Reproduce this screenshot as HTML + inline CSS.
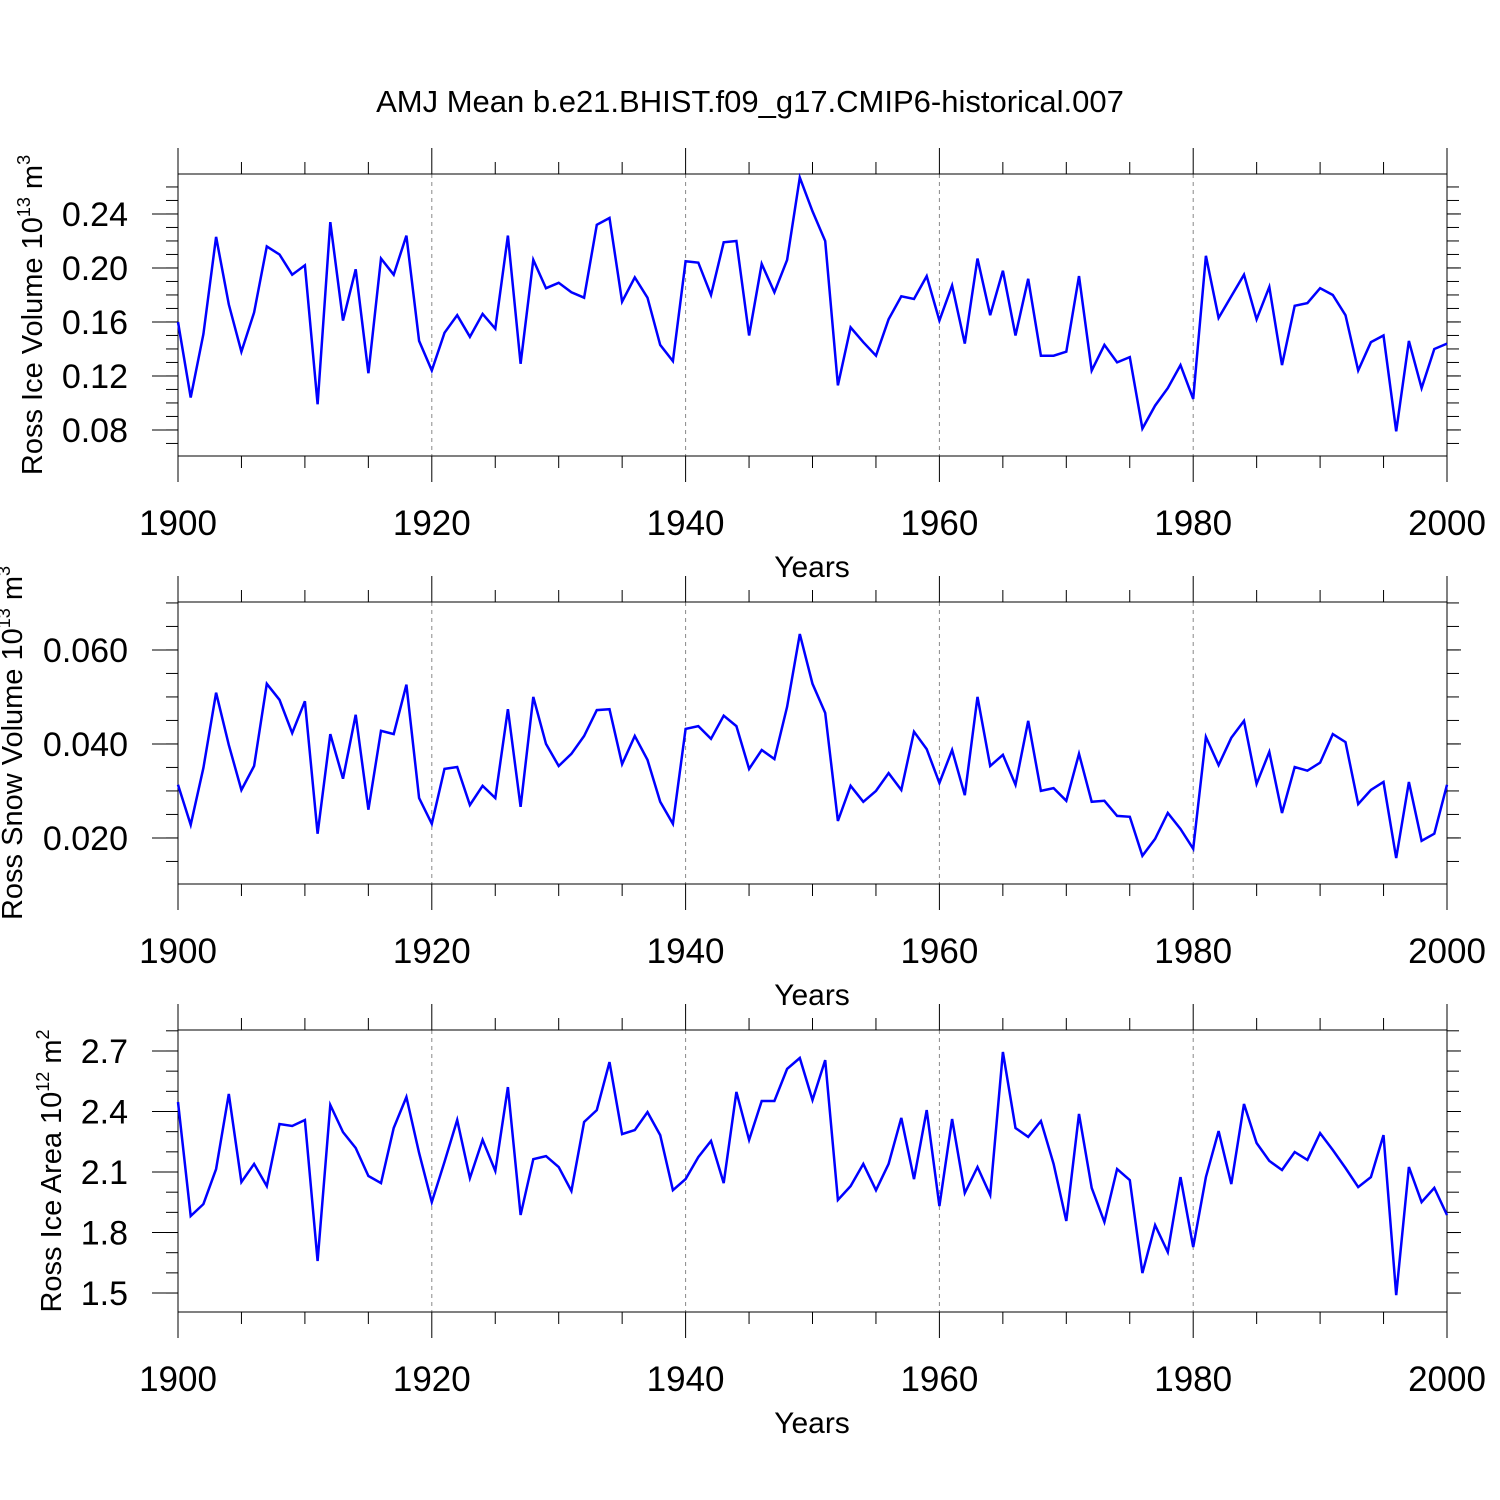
<!DOCTYPE html>
<html><head><meta charset="utf-8"><style>
html,body{margin:0;padding:0;background:#fff;}
svg{display:block;font-family:"Liberation Sans",Arial,sans-serif;}
</style></head><body>
<svg id="chart" width="1500" height="1500" xmlns="http://www.w3.org/2000/svg">
<rect width="1500" height="1500" fill="#fff"/>
<text x="750" y="112" font-size="31" text-anchor="middle">AMJ Mean b.e21.BHIST.f09_g17.CMIP6-historical.007</text>
</svg>
<script>
const years = [];
for (let y = 1900; y <= 2000; y++) years.push(y);
const iceVolume = [0.16,0.104,0.151,0.223,0.173,0.138,0.167,0.216,0.21,0.195,0.202,0.099,0.234,0.161,0.199,0.122,0.207,0.195,0.224,0.146,0.124,0.152,0.165,0.149,0.166,0.155,0.224,0.129,0.206,0.185,0.189,0.182,0.178,0.232,0.237,0.175,0.193,0.178,0.143,0.131,0.205,0.204,0.180,0.219,0.220,0.150,0.203,0.182,0.206,0.267,0.242,0.220,0.113,0.156,0.145,0.135,0.162,0.179,0.177,0.194,0.161,0.187,0.144,0.207,0.165,0.198,0.150,0.192,0.135,0.135,0.138,0.194,0.124,0.143,0.130,0.134,0.081,0.098,0.111,0.128,0.103,0.209,0.163,0.179,0.195,0.162,0.186,0.128,0.172,0.174,0.185,0.180,0.165,0.124,0.145,0.150,0.079,0.146,0.111,0.140,0.144];
const snowVolume = [0.0313,0.0228,0.0349,0.0509,0.0398,0.0302,0.0353,0.0528,0.0494,0.0423,0.0491,0.0209,0.0421,0.0326,0.0462,0.026,0.0428,0.0421,0.0526,0.0285,0.023,0.0347,0.0351,0.027,0.0311,0.0285,0.0474,0.0266,0.05,0.04,0.0353,0.0379,0.0417,0.0472,0.0474,0.0357,0.0417,0.0366,0.0277,0.023,0.0432,0.0438,0.0411,0.046,0.0438,0.0347,0.0387,0.0368,0.0479,0.0634,0.0528,0.0466,0.0236,0.0311,0.0277,0.03,0.0338,0.0302,0.0426,0.0389,0.0317,0.0387,0.0291,0.05,0.0353,0.0377,0.0313,0.0449,0.03,0.0306,0.0279,0.0379,0.0277,0.0279,0.0247,0.0245,0.0162,0.0198,0.0253,0.0219,0.0177,0.0415,0.0355,0.0413,0.0449,0.0315,0.0383,0.0253,0.0351,0.0343,0.036,0.0421,0.0404,0.0272,0.0302,0.0319,0.0157,0.0319,0.0194,0.0209,0.0313];
const iceArea = [2.447,1.882,1.941,2.115,2.487,2.05,2.14,2.03,2.338,2.328,2.358,1.659,2.432,2.298,2.219,2.08,2.045,2.318,2.472,2.194,1.951,2.15,2.358,2.07,2.259,2.105,2.521,1.887,2.164,2.179,2.125,2.006,2.348,2.407,2.645,2.288,2.308,2.397,2.283,2.01,2.065,2.174,2.254,2.045,2.497,2.259,2.452,2.452,2.611,2.665,2.457,2.655,1.961,2.03,2.14,2.01,2.14,2.368,2.065,2.407,1.931,2.363,1.996,2.125,1.986,2.695,2.318,2.274,2.353,2.14,1.857,2.388,2.021,1.852,2.115,2.06,1.599,1.837,1.703,2.075,1.728,2.075,2.303,2.04,2.437,2.244,2.155,2.11,2.199,2.16,2.293,2.209,2.12,2.025,2.075,2.283,1.49,2.125,1.951,2.021,1.887];
const xTickLabels = ["1900","1920","1940","1960","1980","2000"];
const ticks1 = ["0.08","0.12","0.16","0.20","0.24"];
const ticks2 = ["0.020","0.040","0.060"];
const ticks3 = ["1.5","1.8","2.1","2.4","2.7"];

const NS = "http://www.w3.org/2000/svg";
const svg = document.getElementById('chart');
const X0 = 178, X1 = 1447;
function xScale(yr){ return X0 + (yr - 1900) / 100 * (X1 - X0); }
function mk(tag, attrs, parent){
  const e = document.createElementNS(NS, tag);
  for (const k in attrs) e.setAttribute(k, attrs[k]);
  (parent || svg).appendChild(e);
  return e;
}
const panels = [
  {name:'ice-volume', top:174, bottom:456, vmin:0.0607, vmax:0.2696, minor:0.01, data:iceVolume, ticks:ticks1,
   title:['Ross Ice Volume 10','13',' m','3'], tx:42},
  {name:'snow-volume', top:602, bottom:884, vmin:0.0102, vmax:0.0702, minor:0.005, data:snowVolume, ticks:ticks2,
   title:['Ross Snow Volume 10','13',' m','3'], tx:22},
  {name:'ice-area', top:1030, bottom:1312, vmin:1.406, vmax:2.804, minor:0.1, data:iceArea, ticks:ticks3,
   title:['Ross Ice Area 10','12',' m','2'], tx:61}
];
panels.forEach(p => {
  const g = mk('g', {});
  
  
  const yS = v => p.bottom - (v - p.vmin) / (p.vmax - p.vmin) * (p.bottom - p.top);
  for (let yr = 1920; yr <= 1980; yr += 20) {
    const l = mk('line', {x1:xScale(yr), x2:xScale(yr), y1:p.top, y2:p.bottom, stroke:'#888', 'stroke-width':1, 'stroke-dasharray':'4,4'}, g);
    
    
  }
  for (let yr = 1900; yr <= 2000; yr += 5) {
    const x = xScale(yr), major = (yr % 20 === 0), len = major ? 26 : 12;
    mk('line', {x1:x, x2:x, y1:p.top - len, y2:p.top, stroke:'#000', 'stroke-width':1}, g);
    mk('line', {x1:x, x2:x, y1:p.bottom, y2:p.bottom + len, stroke:'#000', 'stroke-width':1}, g);
  }
  const start = Math.ceil(p.vmin / p.minor - 1e-6);
  for (let i = start; i * p.minor <= p.vmax + 1e-9; i++) {
    const y = yS(i * p.minor);
    mk('line', {x1:X0 - 12, x2:X0, y1:y, y2:y, stroke:'#000', 'stroke-width':1}, g);
    mk('line', {x1:X1, x2:X1 + 12, y1:y, y2:y, stroke:'#000', 'stroke-width':1}, g);
  }
  p.ticks.forEach(t => {
    const y = yS(parseFloat(t));
    mk('line', {x1:X0 - 26, x2:X0, y1:y, y2:y, stroke:'#000', 'stroke-width':1}, g);
    mk('line', {x1:X1, x2:X1 + 14, y1:y, y2:y, stroke:'#000', 'stroke-width':1}, g);
    const tl = mk('text', {x:128, y:y + 12, 'font-size':34, 'text-anchor':'end'}, g);
    tl.textContent = t;
    
    
  });
  const fr = mk('rect', {x:X0, y:p.top, width:X1 - X0, height:p.bottom - p.top, fill:'none', stroke:'#000', 'stroke-width':1}, g);
  
  
  xTickLabels.forEach(lbl => {
    const t = mk('text', {x:xScale(parseFloat(lbl)), y:p.bottom + 79, 'font-size':35, 'text-anchor':'middle'}, g);
    t.textContent = lbl;
    
    
  });
  const xt = mk('text', {x:812, y:p.bottom + 121, 'font-size':30, 'text-anchor':'middle'}, g);
  xt.textContent = 'Years';
  
  
  const cy = (p.top + p.bottom) / 2;
  const yt = mk('text', {x:0, y:0, 'font-size':29, 'text-anchor':'middle', transform:'translate(' + p.tx + ',' + cy + ') rotate(-90)'}, g);
  
  
  const s1 = mk('tspan', {}, yt); s1.textContent = p.title[0];
  const s2 = mk('tspan', {dy:-12, 'font-size':18}, yt); s2.textContent = p.title[1];
  const s3 = mk('tspan', {dy:12}, yt); s3.textContent = p.title[2];
  const s4 = mk('tspan', {dy:-12, 'font-size':18}, yt); s4.textContent = p.title[3];
  const pts = p.data.map((v, i) => xScale(years[i]).toFixed(1) + ',' + yS(v).toFixed(1)).join(' ');
  const line = mk('polyline', {points:pts, fill:'none', stroke:'#0000ff', 'stroke-width':2.5, 'stroke-linejoin':'miter'}, g);
  
  
});
</script>
</body></html>
